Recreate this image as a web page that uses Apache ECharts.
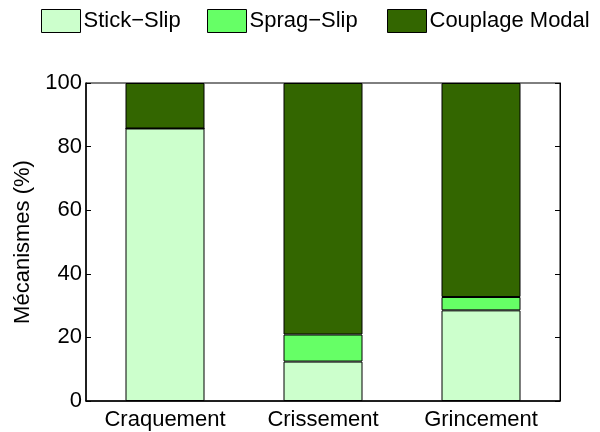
<!DOCTYPE html>
<html>
<head>
<meta charset="utf-8">
<script src="https://cdn.jsdelivr.net/npm/echarts@6/dist/echarts.min.js"></script>
<style>
  html, body { margin: 0; padding: 0; background: #fff; }
  #chart { width: 600px; height: 432px; }
</style>
</head>
<body>
<div id="chart"></div>
<script>
// Noise categories and the share (%) of each friction mechanism
const categories = ['Craquement', 'Crissement', 'Grincement'];
const stickSlip = [85.7, 12.4, 28.5];
const spragSlip = [0, 8.5, 4.2];
const couplageModal = [14.3, 79.1, 67.3];
const yTicks = [0, 20, 40, 60, 80, 100];
const seriesNames = ['Stick\u2212Slip', 'Sprag\u2212Slip', 'Couplage Modal'];
const seriesColors = ['#CCFFCC', '#66FF66', '#336600'];

const FONT = '"Liberation Sans", Arial, Helvetica, sans-serif';

function barSeries(name, data, color) {
  return {
    name: name,
    type: 'bar',
    stack: 'total',
    data: data,
    barWidth: '50%',
    itemStyle: { color: color, borderColor: '#000', borderWidth: 1 },
    emphasis: { disabled: true },
    animation: false
  };
}

// one legend block per series, laid out in a row across the top
const legendLefts = [41, 207, 387];
const legends = seriesNames.map((name, i) => ({
  left: legendLefts[i],
  top: 9,
  padding: 0,
  itemWidth: 39,
  itemHeight: 23,
  icon: 'rect',
  textStyle: { fontSize: 22, color: '#000', fontFamily: FONT, padding: [0, 0, 0, -2] },
  itemStyle: { borderColor: '#000', borderWidth: 1 },
  data: [name]
}));

const chart = echarts.init(document.getElementById('chart'), null, { renderer: 'canvas' });
chart.setOption({
  animation: false,
  backgroundColor: '#fff',
  textStyle: { fontFamily: FONT },
  legend: legends,
  grid: {
    left: 86, right: 40, top: 83, bottom: 31,
    show: true, borderColor: '#000', borderWidth: 1, backgroundColor: 'transparent'
  },
  xAxis: {
    type: 'category',
    data: categories,
    axisLine: { lineStyle: { color: '#000', width: 1.5 } },
    axisTick: { show: false },
    axisLabel: { color: '#000', fontSize: 22, fontFamily: FONT, margin: 8 }
  },
  yAxis: [
    {
      type: 'value',
      min: yTicks[0], max: yTicks[yTicks.length - 1], interval: 20,
      name: 'Mécanismes (%)',
      nameLocation: 'middle',
      nameGap: 41,
      nameTextStyle: { fontSize: 22, color: '#000', fontFamily: FONT },
      axisLine: { show: true, lineStyle: { color: '#000', width: 1.5 } },
      axisTick: { show: true, inside: true, length: 5, lineStyle: { color: '#000' } },
      axisLabel: { color: '#000', fontSize: 22, fontFamily: FONT, margin: 4 },
      splitLine: { show: false }
    },
    {
      type: 'value',
      position: 'right',
      min: yTicks[0], max: yTicks[yTicks.length - 1], interval: 20,
      axisLine: { show: true, lineStyle: { color: '#000', width: 1 } },
      axisTick: { show: true, inside: true, length: 5, lineStyle: { color: '#000' } },
      axisLabel: { show: false },
      splitLine: { show: false }
    }
  ],
  series: seriesNames.map((name, i) =>
    barSeries(name, [stickSlip, spragSlip, couplageModal][i], seriesColors[i]))
});
</script>
</body>
</html>
